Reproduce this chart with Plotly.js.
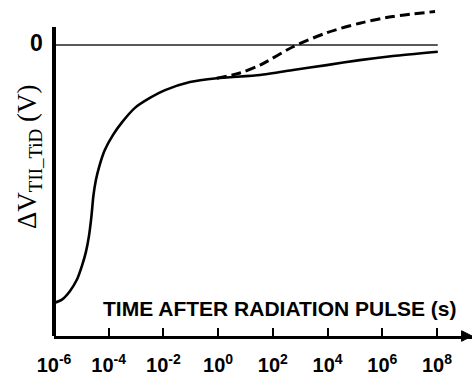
<!DOCTYPE html>
<html>
<head>
<meta charset="utf-8">
<script src="https://cdn.plot.ly/plotly-3.0.1.min.js"></script>
<style>html,body{margin:0;padding:0;background:#fff;}#chart{width:472px;height:376px;}</style>
</head>
<body>
<div id="chart"></div>
<script>
// Time after radiation pulse (s)
var solidTime = [1e-6, 1.95e-6, 3.8e-6, 6.9e-6, 1.05e-5, 1.47e-5, 1.9e-5, 2.34e-5, 2.75e-5, 3.4e-5, 4.55e-5, 7.2e-5, 1.44e-4, 3.1e-4, 9.1e-4, 3.2e-3, 1.15e-2, 9.3e-2, 0.89, 34, 550, 9300, 1.5e5, 2.45e6, 1.07e8];
var solidShift = [-0.887, -0.875, -0.846, -0.806, -0.759, -0.711, -0.656, -0.588, -0.519, -0.464, -0.416, -0.361, -0.309, -0.265, -0.216, -0.182, -0.155, -0.127, -0.114, -0.103, -0.086, -0.069, -0.052, -0.038, -0.023];
var dashedTime = [0.89, 6.3, 34, 550, 9300, 1.5e5, 2.45e6, 8.5e7];
var dashedShift = [-0.114, -0.096, -0.069, -0.006, 0.042, 0.075, 0.098, 0.115];
var zeroTime = [1e-6, 1.07e8];
var zeroShift = [0, 0];
var tickValues = [1e-6, 1e-4, 1e-2, 1e0, 1e2, 1e4, 1e6, 1e8];
var tickLabels = ['10<sup>-6</sup>', '10<sup>-4</sup>', '10<sup>-2</sup>', '10<sup>0</sup>', '10<sup>2</sup>', '10<sup>4</sup>', '10<sup>6</sup>', '10<sup>8</sup>'];

var traces = [
  {x: zeroTime, y: zeroShift, mode: 'lines', line: {color: '#222', width: 1.5}, hoverinfo: 'skip'},
  {x: dashedTime, y: dashedShift, mode: 'lines', line: {color: '#000', width: 3, dash: '10px,5px', shape: 'spline', smoothing: 0.8}},
  {x: solidTime, y: solidShift, mode: 'lines', line: {color: '#000', width: 2.6, shape: 'spline', smoothing: 0.6}}
];

var layout = {
  width: 472, height: 376,
  margin: {l: 54, r: 0, t: 5, b: 40},
  paper_bgcolor: '#fff', plot_bgcolor: '#fff',
  showlegend: false,
  font: {family: 'Liberation Sans, Arial, sans-serif', color: '#000'},
  xaxis: {
    type: 'log', range: [-6, 9.28],
    showgrid: false, zeroline: false,
    showline: true, linecolor: '#000', linewidth: 3,
    ticks: 'inside', ticklen: 8, tickwidth: 2, tickcolor: '#000',
    tickvals: tickValues, ticktext: tickLabels,
    tickfont: {size: 20, weight: 'bold', family: 'Liberation Sans, Arial, sans-serif'},
    ticklabelstandoff: 9
  },
  yaxis: {
    range: [-1, 0.1375],
    showgrid: false, zeroline: false, showline: false,
    showticklabels: false, ticks: ''
  },
  shapes: [
    {type: 'line', xref: 'paper', yref: 'y', x0: 0, x1: 0, y0: -1.005, y1: 0.062, line: {color: '#000', width: 4}},
    {type: 'path', xref: 'paper', yref: 'paper', path: 'M 0.975 0.016 L 1.0 0 L 0.975 -0.016 Z', fillcolor: '#000', line: {color: '#000', width: 1}}
  ],
  annotations: [
    {text: '<b>0</b>', xref: 'paper', yref: 'y', x: 0, y: 0, xanchor: 'right', xshift: -9, yshift: 2, showarrow: false, font: {size: 23}},
    {text: '<b>TIME AFTER RADIATION PULSE (s)</b>', xref: 'paper', yref: 'paper', x: (280 - 54) / 418, y: (336 - 308) / 331, xanchor: 'center', yanchor: 'middle', showarrow: false, font: {size: 21}},
    {text: 'ΔV<sub>TII_TiD</sub> (V)', xref: 'paper', yref: 'paper', x: (29 - 54) / 418, y: (336 - 157) / 331, xanchor: 'center', yanchor: 'middle', textangle: -90, showarrow: false, font: {size: 27, family: 'Liberation Serif, Times New Roman, serif'}}
  ]
};

Plotly.newPlot('chart', traces, layout, {staticPlot: true, displayModeBar: false});
</script>
</body>
</html>
